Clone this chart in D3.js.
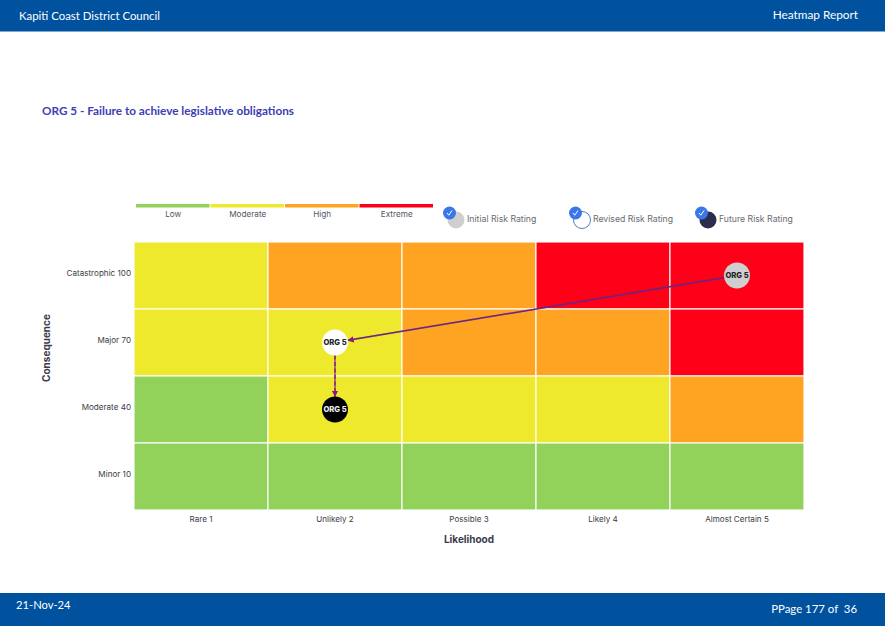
<!DOCTYPE html>
<html>
<head>
<meta charset="UTF-8">
<style>
  html, body { margin: 0; padding: 0; background: #fff; }
  svg { display: block; }
  .page text { font-family: Lato, "Open Sans", sans-serif; }
  .chart text { font-family: Inter, "Noto Sans", sans-serif; }
  .axis path { display: none; }
  .axis text { fill: #3c3c46; font-size: 8.1px; }
  .axis-title { fill: #3a3a4c; font-size: 10px; font-weight: 700; }
  .key-label { fill: #55555f; font-size: 8.2px; }
  .rating-label { fill: #6a6a72; font-size: 8.7px; }
  .point-label { font-size: 7.6px; font-weight: 800; text-anchor: middle; }
</style>
<script src="https://d3js.org/d3.v7.min.js"></script>
</head>
<body>
<svg width="885" height="626"></svg>
<script>
// data
var likelihood = ['Rare 1', 'Unlikely 2', 'Possible 3', 'Likely 4', 'Almost Certain 5'];
var consequence = ['Catastrophic 100', 'Major 70', 'Moderate 40', 'Minor 10'];
var levels = ['Low', 'Moderate', 'High', 'Extreme'];
var levelColors = ['#93d25a', '#eee92c', '#fea322', '#ff0019'];
// risk level per cell, rows from the top, index into levels
var riskMatrix = [
  [1, 2, 2, 3, 3],
  [1, 1, 2, 2, 3],
  [0, 1, 1, 1, 2],
  [0, 0, 0, 0, 0]
];
var ratingNames = ['Initial Risk Rating', 'Revised Risk Rating', 'Future Risk Rating'];
var ratingL = ['Almost Certain 5', 'Unlikely 2', 'Unlikely 2'];
var ratingC = ['Catastrophic 100', 'Major 70', 'Moderate 40'];

var svg = d3.select('svg');
var page = svg.append('g').attr('class', 'page');
var chart = svg.append('g').attr('class', 'chart');

// header and footer
page.append('rect').attr('width', 885).attr('height', 31.5).attr('fill', '#00529f');
page.append('rect').attr('y', 593).attr('width', 885).attr('height', 33).attr('fill', '#00529f');
page.append('text').attr('x', 19).attr('y', 20).attr('fill', '#fff').attr('font-size', 11.4).text('Kapiti Coast District Council');
page.append('text').attr('x', 858).attr('y', 19).attr('fill', '#fff').attr('font-size', 11.8).attr('text-anchor', 'end').text('Heatmap Report');
page.append('text').attr('x', 16).attr('y', 609).attr('fill', '#fff').attr('font-size', 11.2).text('21-Nov-24');
page.append('text').attr('x', 857).attr('y', 613).attr('fill', '#fff').attr('font-size', 11.4).attr('text-anchor', 'end').attr('xml:space', 'preserve').text('PPage 177 of  36');
page.append('text').attr('x', 42).attr('y', 115).attr('fill', '#3d3db4').attr('font-size', 11.75).attr('font-weight', 700).text('ORG 5 - Failure to achieve legislative obligations');

// scales
var x = d3.scaleBand().domain(likelihood).range([134, 804]);
var y = d3.scaleBand().domain(consequence).range([242, 510]);
var keyX = d3.scaleBand().domain(levels).range([136, 434]);
var ratingX = d3.scalePoint().domain(ratingNames).range([456, 708]);

// heatmap cells
var cells = [];
riskMatrix.forEach(function(row, i) {
  row.forEach(function(v, j) {
    cells.push({ l: likelihood[j], c: consequence[i], v: v });
  });
});
chart.selectAll('.cell').data(cells).enter().append('rect')
  .attr('class', 'cell')
  .attr('x', function(d) { return x(d.l); })
  .attr('y', function(d) { return y(d.c); })
  .attr('width', x.bandwidth())
  .attr('height', y.bandwidth())
  .attr('fill', function(d) { return levelColors[d.v]; })
  .attr('stroke', '#fff')
  .attr('stroke-opacity', 0.8)
  .attr('stroke-width', 1.4);

// axes
chart.append('g').attr('class', 'axis').attr('transform', 'translate(0,510)')
  .call(d3.axisBottom(x).tickSize(0).tickPadding(6));
chart.append('g').attr('class', 'axis').attr('transform', 'translate(134,-2)')
  .call(d3.axisLeft(y).tickSize(0).tickPadding(3));
chart.append('text').attr('class', 'axis-title').attr('x', 469).attr('y', 543)
  .attr('text-anchor', 'middle').text('Likelihood');
chart.append('text').attr('class', 'axis-title')
  .attr('transform', 'translate(50,348) rotate(-90)')
  .attr('text-anchor', 'middle').text('Consequence');

// colour key
chart.selectAll('.key-bar').data(levels).enter().append('rect')
  .attr('class', 'key-bar')
  .attr('x', function(d) { return keyX(d); })
  .attr('y', 204)
  .attr('width', keyX.bandwidth() - 1)
  .attr('height', 3.5)
  .attr('fill', function(d, i) { return levelColors[i]; });
chart.selectAll('.key-label').data(levels).enter().append('text')
  .attr('class', 'key-label')
  .attr('x', function(d) { return keyX(d) + keyX.bandwidth() / 2; })
  .attr('y', 217)
  .attr('text-anchor', 'middle')
  .text(function(d) { return d; });

// rating key
var ratingFill = ['#cfcfcf', '#fff', '#2c2c4e'];
var ratingStroke = ['none', '#4f7fc4', 'none'];
var rk = chart.selectAll('.rating').data(ratingNames).enter().append('g')
  .attr('class', 'rating')
  .attr('transform', function(d) { return 'translate(' + ratingX(d) + ',220)'; });
rk.append('circle').attr('r', 8.5)
  .attr('fill', function(d, i) { return ratingFill[i]; })
  .attr('stroke', function(d, i) { return ratingStroke[i]; });
rk.append('circle').attr('cx', -6.5).attr('cy', -7).attr('r', 6.5).attr('fill', '#3a78ea');
rk.append('path').attr('d', 'M-9 -7 L-7.2 -4.8 L-4 -9.5').attr('fill', 'none').attr('stroke', '#fff').attr('stroke-width', 1);
rk.append('text').attr('class', 'rating-label').attr('x', 11).attr('y', 2).text(function(d) { return d; });

// movement arrows between ratings
var defs = svg.append('defs');
defs.append('marker').attr('id', 'head').attr('viewBox', '0 0 6 6').attr('refX', 5.5).attr('refY', 3)
  .attr('markerWidth', 4).attr('markerHeight', 4).attr('orient', 'auto')
  .append('path').attr('d', 'M0 0 L6 3 L0 6 Z').attr('fill', '#8a1a7a');

function px(i) { return x(ratingL[i]) + x.bandwidth() / 2; }
function py(i) { return y(ratingC[i]) + y.bandwidth() / 2; }

// stop the line at the edge of the target circle
function arrow(a, b, dashed) {
  var dx = px(b) - px(a), dy = py(b) - py(a), len = Math.sqrt(dx * dx + dy * dy);
  var ex = px(b) - dx / len * 13, ey = py(b) - dy / len * 13;
  chart.append('line').attr('x1', px(a)).attr('y1', py(a)).attr('x2', ex).attr('y2', ey)
    .attr('stroke', dashed ? '#6a5ab0' : '#4a2a9a').attr('stroke-width', 1.5);
  chart.append('line').attr('x1', px(a)).attr('y1', py(a)).attr('x2', ex).attr('y2', ey)
    .attr('stroke', '#b02050').attr('stroke-width', 1.6)
    .attr('stroke-dasharray', dashed ? '4 2.5' : null)
    .attr('stroke-opacity', dashed ? 1 : 0.3)
    .attr('marker-end', 'url(#head)');
}
arrow(0, 1, false);
arrow(1, 2, true);

// rating points
var pointFill = ['#cfcfcf', '#fff', '#000'];
var pointText = ['#222', '#222', '#eee'];
var pts = chart.selectAll('.point').data(ratingNames).enter().append('g')
  .attr('class', 'point')
  .attr('transform', function(d, i) { return 'translate(' + px(i) + ',' + py(i) + ')'; });
pts.append('circle').attr('r', 13).attr('fill', function(d, i) { return pointFill[i]; });
pts.append('text').attr('class', 'point-label').attr('y', 2.8)
  .attr('fill', function(d, i) { return pointText[i]; }).text('ORG 5');
</script>
</body>
</html>
